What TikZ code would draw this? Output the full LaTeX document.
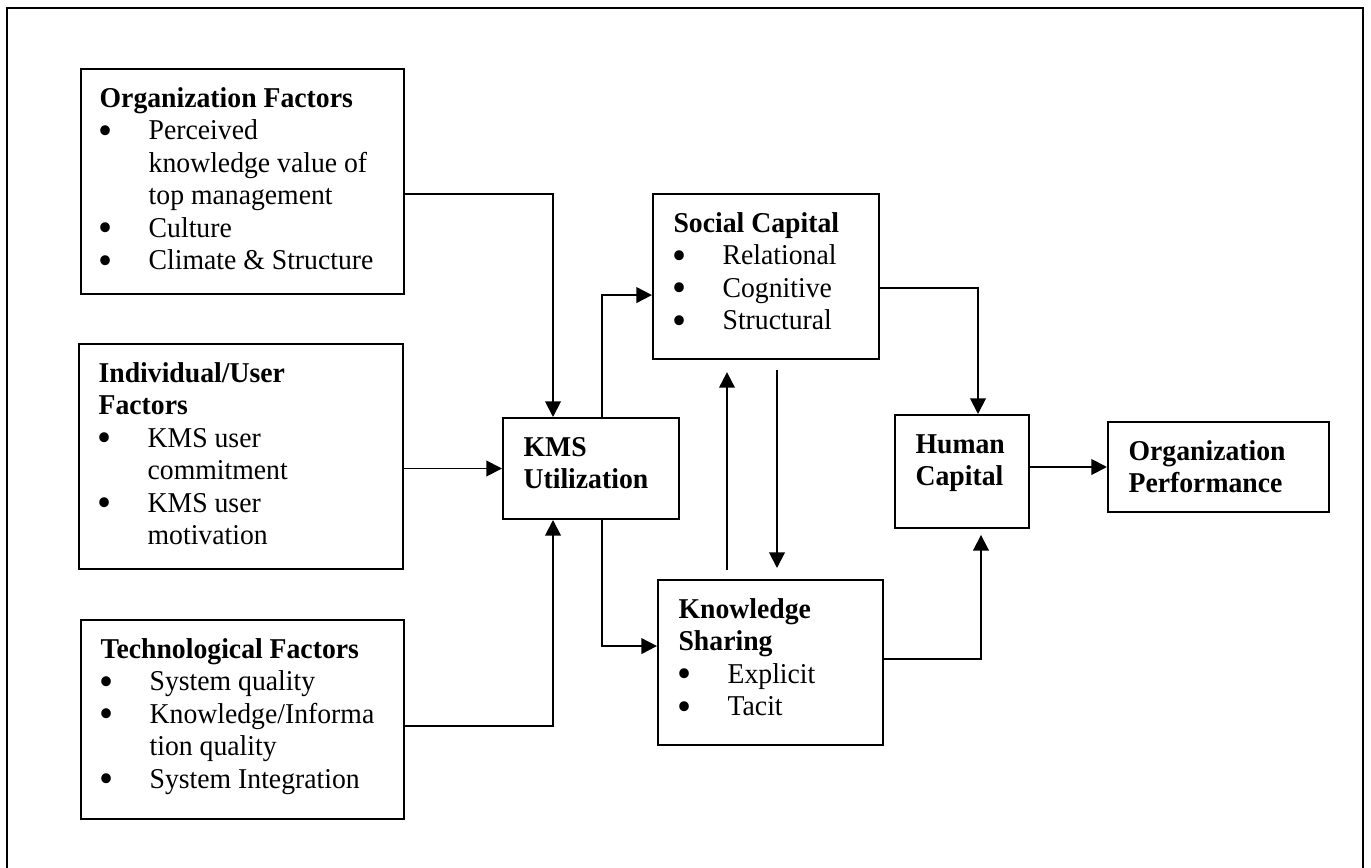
\documentclass[tikz,border=0pt]{standalone}
\usepackage{fontspec}
\setmainfont{Liberation Serif}[FakeStretch=0.965]
\usepackage{tikz}
\usetikzlibrary{calc,arrows.meta}

\newcommand{\blkbody}[3]{\parbox[t][#2][t]{\dimexpr#1-17.2pt\relax}{\raggedright\rule{0pt}{15.9pt}#3}}
\newcommand{\bul}{\makebox[20.5pt][l]{\hspace{-0.6pt}\raisebox{-2pt}[0pt][0pt]{\scalebox{1.45}{\textbullet}}}}
\newcommand{\ind}{\makebox[20.5pt]{}}

\begin{document}
\begin{tikzpicture}[x=0.418pt, y=-0.418pt,
    blk/.style={draw, line width=0.85pt, anchor=north west, inner xsep=8.6pt, inner ysep=0pt, font=\fontsize{12}{13.6}\selectfont},
    arr/.style={line width=0.8pt, -{Triangle[width=6.5pt,length=6.5pt]}}]
    \useasboundingbox (0,0) rectangle (1371,868);

    % Frame
    \draw[line width=1.1pt] (7,868) -- (7,8) -- (1363,8) -- (1363,868);

    % Factors
    \node[blk, inner xsep=7.8pt] (org) at (80,68) {\blkbody{136.6pt}{94.1pt}{\textbf{Organization Factors}\\ \bul Perceived\\ \ind knowledge value of\\ \ind top management\\ \bul Culture\\ \bul Climate \& Structure}};
    \node[blk, inner xsep=8.2pt] (ind) at (78,343) {\blkbody{136.2pt}{94.1pt}{\textbf{Individual/User}\\ \textbf{Factors}\\ \bul KMS user\\ \ind commitment\\ \bul KMS user\\ \ind motivation}};
    \node[blk, inner xsep=8.2pt] (tech) at (80,619) {\blkbody{135.8pt}{83.2pt}{\textbf{Technological Factors}\\ \bul System quality\\ \bul Knowledge/Informa\\ \ind tion quality\\ \bul System Integration}};

    % Middle
    \node[blk] (kms) at (502,417) {\blkbody{73.6pt}{42.2pt}{\textbf{KMS}\\ \textbf{Utilization}}};
    \node[blk] (soc) at (652,193) {\blkbody{94.5pt}{69.0pt}{\textbf{Social Capital}\\ \bul Relational\\ \bul Cognitive\\ \bul Structural}};
    \node[blk] (ks) at (657,579) {\blkbody{94.1pt}{69.0pt}{\textbf{Knowledge}\\ \textbf{Sharing}\\ \bul Explicit\\ \bul Tacit}};

    % Outcomes
    \node[blk] (hum) at (894,414) {\blkbody{56.0pt}{47.2pt}{\textbf{Human}\\ \textbf{Capital}}};
    \node[blk] (perf) at (1107,421) {\blkbody{92.4pt}{37.6pt}{\textbf{Organization}\\ \textbf{Performance}}};

    % Arrows
    \draw[arr] ($(org.east)+(0,12.5)$) -| ($(kms.north west)+(51,0)$);
    \draw[arr] (ind.east |- kms.west) -- (kms.west);
    \draw[arr] ($(tech.east)+(0,6)$) -| ($(kms.south west)+(51,0)$);
    \draw[arr] ($(kms.north west)+(100,0)$) |- ($(soc.west)+(0,18.5)$);
    \draw[arr] ($(kms.south west)+(100,0)$) |- ($(ks.west)+(0,-16.5)$);
    \draw[arr] ($(ks.north west)+(70,-9)$) -- ($(soc.south west)+(75,12)$);
    \draw[arr] ($(soc.south west)+(125,10)$) -- ($(ks.north west)+(120,-11)$);
    \draw[arr] ($(soc.east)+(0,11.5)$) -| ($(hum.north west)+(84,0)$);
    \draw[arr] ($(ks.east)+(0,-3.5)$) -| ($(hum.south west)+(87,6)$);
    \draw[arr] (hum.east |- perf.west) -- (perf.west);

\end{tikzpicture}
\end{document}
